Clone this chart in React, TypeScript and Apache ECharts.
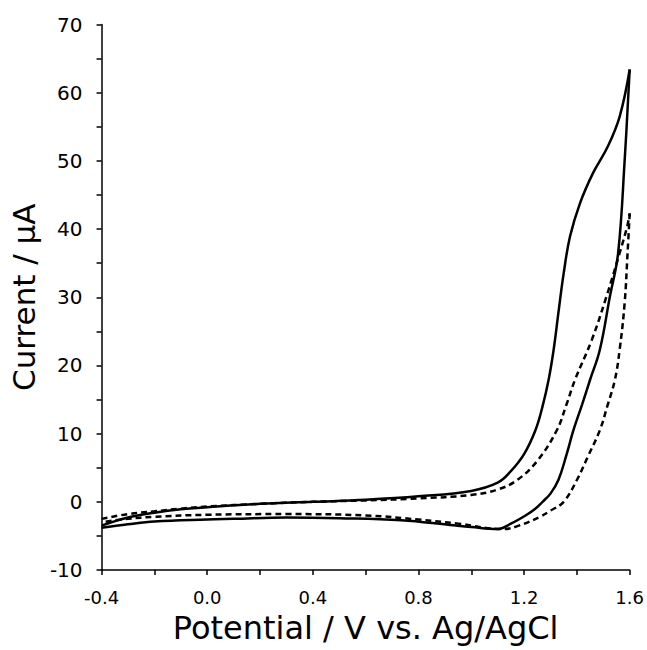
import React, { useEffect, useRef } from "react";
import * as echarts from "echarts";

// Solid curve: forward (anodic) scan
const solidFwdX = [-0.4, -0.3, -0.2, -0.1, 0.0, 0.2, 0.4, 0.6, 0.8, 1.0, 1.1, 1.15, 1.2, 1.243, 1.27, 1.293, 1.312, 1.33, 1.35, 1.374, 1.412, 1.461, 1.517, 1.562, 1.6];
const solidFwdY = [-3.5, -2.3, -1.6, -1.1, -0.8, -0.3, 0.0, 0.3, 0.8, 1.6, 2.8, 4.5, 7.0, 10.5, 14.0, 17.9, 22.3, 27.7, 33.5, 38.9, 43.8, 48.2, 52.1, 56.5, 63.4];
// Solid curve: reverse (cathodic) scan
const solidRevX = [1.6, 1.581, 1.556, 1.525, 1.487, 1.45, 1.42, 1.387, 1.36, 1.33, 1.3, 1.27, 1.24, 1.21, 1.15, 1.1, 1.0, 0.92, 0.735, 0.5, 0.3, 0.1, 0.0, -0.2, -0.3, -0.4];
const solidRevY = [63.4, 50.1, 36.4, 30.1, 22.3, 17.9, 14.3, 10.5, 6.8, 3.2, 1.2, 0.0, -1.1, -1.9, -3.2, -4.0, -3.7, -3.4, -2.7, -2.4, -2.3, -2.5, -2.6, -2.9, -3.3, -3.8];
// Dashed curve: forward scan
const dashFwdX = [-0.4, -0.3, -0.2, -0.1, 0.0, 0.2, 0.4, 0.6, 0.8, 1.0, 1.1, 1.174, 1.25, 1.324, 1.36, 1.393, 1.456, 1.512, 1.562, 1.59, 1.6];
const dashFwdY = [-2.5, -1.8, -1.4, -1.0, -0.7, -0.3, 0.0, 0.2, 0.5, 1.0, 1.8, 3.2, 6.0, 10.5, 14.2, 17.9, 23.7, 30.1, 36.5, 40.3, 42.3];
// Dashed curve: reverse scan
const dashRevX = [1.6, 1.592, 1.581, 1.562, 1.544, 1.515, 1.487, 1.44, 1.4, 1.35, 1.3, 1.26, 1.18, 1.12, 0.95, 0.8, 0.6, 0.3, 0.0, -0.2, -0.3, -0.4];
const dashRevY = [42.3, 36.5, 29.2, 22.3, 17.9, 14.0, 10.5, 6.5, 3.2, 0.0, -1.3, -2.2, -3.5, -4.0, -3.2, -2.6, -2.0, -1.8, -1.9, -2.2, -2.5, -3.0];

const xTicks = { min: -0.4, max: 1.6, interval: 0.4 };
const yTicks = { min: -10, max: 70, interval: 10 };

const zip = (xs: number[], ys: number[]) => xs.map((x, i) => [x, ys[i]]);

export default function App() {
  const ref = useRef<HTMLDivElement>(null);
  useEffect(() => {
    if (!ref.current) return;
    const chart = echarts.init(ref.current, undefined, { renderer: "svg" });
    const font = "'DejaVu Sans', Verdana, sans-serif";
    const axisCommon = {
      axisLine: { show: true, onZero: false, lineStyle: { color: "#000", width: 1.5 } },
      axisTick: { show: true, inside: false, length: 5, lineStyle: { color: "#000", width: 1.5 } },
      minorTick: { show: true, splitNumber: 2, length: 5, lineStyle: { color: "#000", width: 1.5 } },
      splitLine: { show: false },
      minorSplitLine: { show: false },
    };
    const lineBase = {
      type: "line" as const,
      showSymbol: false,
      symbol: "none",
      smooth: 0.4,
      silent: true,
    };
    chart.setOption({
      animation: false,
      backgroundColor: "#fff",
      grid: { left: 98, right: 17, top: 24.5, bottom: 80, containLabel: false },
      xAxis: {
        type: "value",
        min: xTicks.min,
        max: xTicks.max,
        interval: xTicks.interval,
        ...axisCommon,
        axisLabel: {
          color: "#000",
          fontSize: 18,
          fontFamily: font,
          margin: 18,
          formatter: (v: number) => v.toFixed(1),
        },
        name: "Potential / V vs. Ag/AgCl",
        nameLocation: "middle",
        nameGap: 42,
        nameTextStyle: { color: "#000", fontSize: 32, fontFamily: font },
      },
      yAxis: {
        type: "value",
        min: yTicks.min,
        max: yTicks.max,
        interval: yTicks.interval,
        ...axisCommon,
        axisLabel: {
          color: "#000",
          fontSize: 20,
          fontFamily: font,
          margin: 19,
        },
        name: "Current / μA",
        nameLocation: "middle",
        nameGap: 54,
        nameTextStyle: { color: "#000", fontSize: 31, fontFamily: font },
      },
      series: [
        { ...lineBase, data: zip(solidFwdX, solidFwdY), lineStyle: { color: "#000", width: 2.5 } },
        { ...lineBase, data: zip(solidRevX, solidRevY), lineStyle: { color: "#000", width: 2.5 } },
        { ...lineBase, data: zip(dashFwdX, dashFwdY), lineStyle: { color: "#000", width: 2.5, type: [6, 4] } },
        { ...lineBase, data: zip(dashRevX, dashRevY), lineStyle: { color: "#000", width: 2.5, type: [6, 4] } },
      ],
    });
    return () => chart.dispose();
  }, []);
  return <div ref={ref} style={{ width: 647, height: 650, position: "absolute", left: 0, top: 0 }} />;
}
